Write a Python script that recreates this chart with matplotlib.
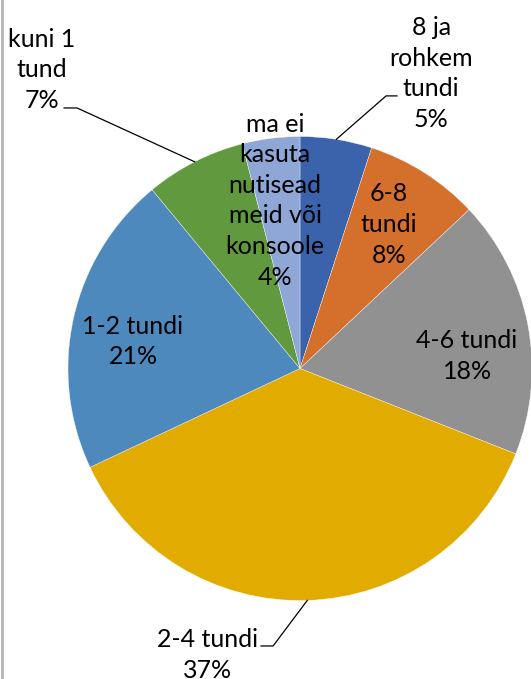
import numpy as np
import matplotlib.pyplot as plt

# data, clockwise from 12 o'clock
labels = ['8 ja\nrohkem\ntundi', '6-8\ntundi', '4-6 tundi', '2-4 tundi',
          '1-2 tundi', 'kuni 1\ntund', 'ma ei\nkasuta\nnutisead\nmeid või\nkonsoole']
values = [5, 8, 18, 37, 21, 7, 4]
colors = ['#3A63AC', '#D4702C', '#919191', '#E2AB00', '#4E89BD', '#619A3E', '#8EA7D7']

# label block centres in pie radius units (pie centre = 0,0)
label_pos = [(0.565, 1.272), (0.384, 0.621), (0.720, 0.054), (-0.397, -1.235),
             (-0.720, 0.116), (-1.112, 1.287), (-0.108, 0.724)]
# leader lines: elbow point and end point
leaders = {0: [(0.371, 1.175), (0.418, 1.175)],
           3: [(-0.116, -1.196), (-0.168, -1.196)],
           5: [(-0.961, 1.123), (-1.017, 1.123)]}

plt.rcParams['font.family'] = ['Lato', 'DejaVu Sans']

fig = plt.figure(figsize=(5.31, 6.79), dpi=100)
ax = fig.add_axes([0, 0, 1, 1])

wedges, _ = ax.pie(values, startangle=90, counterclock=False, colors=colors,
                   radius=1, wedgeprops=dict(edgecolor='white', linewidth=0.25))

# 232 px per unit, centre at (300, 368.5)
ax.set_xlim(-300 / 232, 231 / 232)
ax.set_ylim(-310.5 / 232, 368.5 / 232)
ax.set_aspect('auto')
ax.axis('off')

total = sum(values)
cum = 0
for i, v in enumerate(values):
    mid = 90 - 360 * (cum + v / 2) / total
    cum += v
    txt = labels[i] + '\n' + f'{v}%'
    x, y = label_pos[i]
    ax.text(x, y, txt, ha='center', va='center', fontsize=18,
            linespacing=1.4, color='black')
    if i in leaders:
        ex, ey = np.cos(np.radians(mid)), np.sin(np.radians(mid))
        (bx, by), (cx, cy) = leaders[i]
        ax.plot([ex, bx, cx], [ey, by, cy], color='black', lw=0.9)

fig.add_artist(plt.Line2D([0.003, 0.003], [0, 1], transform=fig.transFigure,
                          color='#B4B4B4', lw=2))

plt.savefig('out.png')
